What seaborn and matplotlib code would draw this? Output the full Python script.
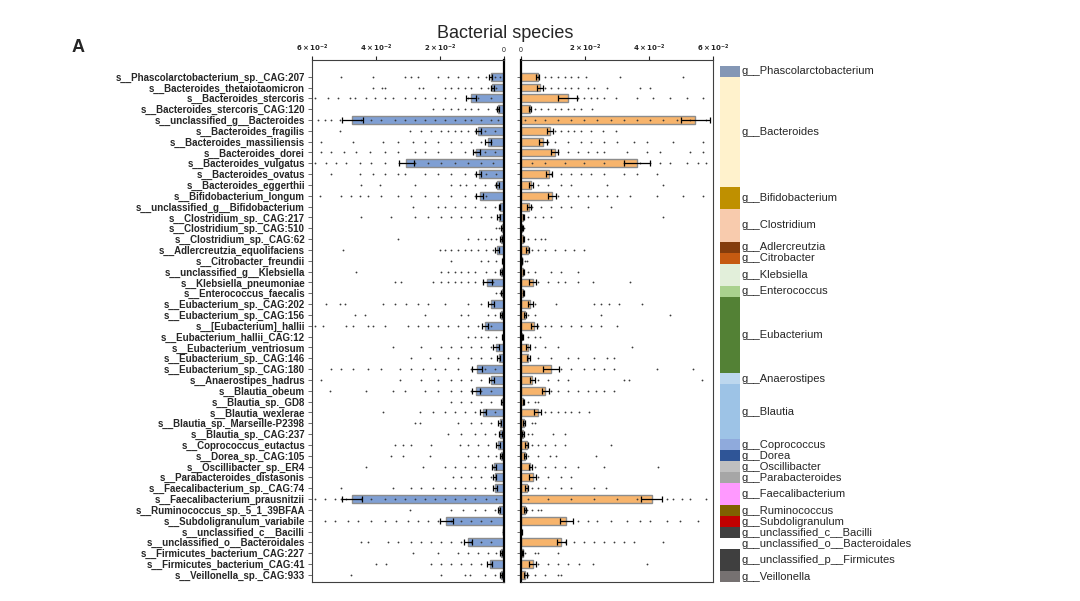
import numpy as np
import pandas as pd
import matplotlib
matplotlib.use('Agg')
import matplotlib.pyplot as plt
import seaborn as sns

# species rows, top to bottom
species = [
    's__Phascolarctobacterium_sp._CAG:207', 's__Bacteroides_thetaiotaomicron',
    's__Bacteroides_stercoris', 's__Bacteroides_stercoris_CAG:120',
    's__unclassified_g__Bacteroides', 's__Bacteroides_fragilis',
    's__Bacteroides_massiliensis', 's__Bacteroides_dorei', 's__Bacteroides_vulgatus',
    's__Bacteroides_ovatus', 's__Bacteroides_eggerthii', 's__Bifidobacterium_longum',
    's__unclassified_g__Bifidobacterium', 's__Clostridium_sp._CAG:217',
    's__Clostridium_sp._CAG:510', 's__Clostridium_sp._CAG:62',
    's__Adlercreutzia_equolifaciens', 's__Citrobacter_freundii',
    's__unclassified_g__Klebsiella', 's__Klebsiella_pneumoniae',
    's__Enterococcus_faecalis', 's__Eubacterium_sp._CAG:202',
    's__Eubacterium_sp._CAG:156', 's__[Eubacterium]_hallii',
    's__Eubacterium_hallii_CAG:12', 's__Eubacterium_ventriosum',
    's__Eubacterium_sp._CAG:146', 's__Eubacterium_sp._CAG:180',
    's__Anaerostipes_hadrus', 's__Blautia_obeum', 's__Blautia_sp._GD8',
    's__Blautia_wexlerae', 's__Blautia_sp._Marseille-P2398', 's__Blautia_sp._CAG:237',
    's__Coprococcus_eutactus', 's__Dorea_sp._CAG:105', 's__Oscillibacter_sp._ER4',
    's__Parabacteroides_distasonis', 's__Faecalibacterium_sp._CAG:74',
    's__Faecalibacterium_prausnitzii', 's__Ruminococcus_sp._5_1_39BFAA',
    's__Subdoligranulum_variabile', 's__unclassified_c__Bacilli',
    's__unclassified_o__Bacteroidales', 's__Firmicutes_bacterium_CAG:227',
    's__Firmicutes_bacterium_CAG:41', 's__Veillonella_sp._CAG:933',
]

genus_names = [
    'g__Phascolarctobacterium', 'g__Bacteroides', 'g__Bifidobacterium', 'g__Clostridium',
    'g__Adlercreutzia', 'g__Citrobacter', 'g__Klebsiella', 'g__Enterococcus',
    'g__Eubacterium', 'g__Anaerostipes', 'g__Blautia', 'g__Coprococcus', 'g__Dorea',
    'g__Oscillibacter', 'g__Parabacteroides', 'g__Faecalibacterium', 'g__Ruminococcus',
    'g__Subdoligranulum', 'g__unclassified_c__Bacilli', 'g__unclassified_o__Bacteroidales',
    'g__unclassified_p__Firmicutes', 'g__Veillonella',
]
genus_sizes = [1, 10, 2, 3, 1, 1, 2, 1, 7, 1, 5, 1, 1, 1, 1, 2, 1, 1, 1, 1, 2, 1]
genus_colors = [
    '#8497b5', '#fff2cc', '#bf9000', '#f8cbad', '#843c0c', '#c55a11', '#e2efda',
    '#a9d18e', '#538135', '#bdd7ee', '#9dc3e6', '#8faadc', '#2f5597', '#bfbfbf',
    '#a6a6a6', '#ff99ff', '#7f6000', '#c00000', '#404040', '#ffffff', '#3f3f3f',
    '#767171',
]

# mean relative abundance, in units of 1e-2
left_mean = [0.42, 0.36, 1.04, 0.19, 4.74, 0.81, 0.50, 0.86, 3.05, 0.79, 0.21, 0.76,
             0.14, 0.17, 0.06, 0.08, 0.22, 0.04, 0.08, 0.53, 0.07, 0.40, 0.08, 0.60,
             0.04, 0.25, 0.17, 0.85, 0.40, 0.88, 0.06, 0.66, 0.14, 0.11, 0.19, 0.10,
             0.31, 0.29, 0.29, 4.75, 0.15, 1.80, 0.02, 1.12, 0.10, 0.45, 0.10]
left_err = [0.06, 0.05, 0.15, 0.03, 0.32, 0.08, 0.10, 0.10, 0.24, 0.08, 0.05, 0.10,
            0.03, 0.04, 0.02, 0.03, 0.05, 0.02, 0.03, 0.14, 0.03, 0.10, 0.03, 0.10,
            0.02, 0.08, 0.05, 0.15, 0.08, 0.12, 0.02, 0.10, 0.04, 0.04, 0.05, 0.03,
            0.06, 0.05, 0.06, 0.30, 0.04, 0.20, 0.01, 0.12, 0.03, 0.08, 0.03]
right_mean = [0.52, 0.59, 1.46, 0.29, 5.45, 0.90, 0.69, 1.05, 3.63, 0.87, 0.31, 0.97,
              0.25, 0.07, 0.04, 0.07, 0.21, 0.03, 0.07, 0.36, 0.07, 0.29, 0.12, 0.41,
              0.04, 0.21, 0.23, 0.95, 0.35, 0.76, 0.07, 0.52, 0.09, 0.07, 0.18, 0.12,
              0.29, 0.36, 0.18, 4.09, 0.12, 1.41, 0.01, 1.26, 0.05, 0.36, 0.14]
right_err = [0.05, 0.10, 0.30, 0.03, 0.45, 0.10, 0.12, 0.12, 0.40, 0.10, 0.05, 0.12,
             0.05, 0.02, 0.01, 0.02, 0.04, 0.01, 0.02, 0.12, 0.01, 0.08, 0.03, 0.10,
             0.02, 0.06, 0.05, 0.25, 0.08, 0.10, 0.02, 0.10, 0.03, 0.03, 0.04, 0.03,
             0.05, 0.10, 0.05, 0.33, 0.03, 0.20, 0.01, 0.15, 0.02, 0.10, 0.04]

# individual samples (units of 1e-2), one list per species row
left_dots = [
    [5.08, 4.09, 3.1, 2.92, 2.69, 2.06, 1.75, 1.44, 1.13, 0.81, 0.55, 0.29, 0.14],
    [4.09, 3.81, 3.73, 2.66, 2.53, 1.85, 1.65, 1.44, 1.23, 1.02, 0.71, 0.5, 0.24],
    [5.92, 5.5, 5.19, 4.82, 4.67, 4.3, 4.04, 3.73, 3.47, 3.1, 2.79, 2.48, 2.17, 1.85, 1.54, 1.13, 0.81, 0.4],
    [2.22, 1.91, 1.65, 1.44, 1.23, 1.02, 0.81, 0.5, 0.24],
    [5.81, 5.6, 5.4, 5.14, 4.46, 4.15, 3.83, 3.42, 3.1, 2.79, 2.48, 2.17, 1.85, 1.54, 1.23, 1.02, 0.71, 0.4, 0.19],
    [5.14, 2.95, 2.58, 2.27, 1.96, 1.75, 1.54, 1.33, 1.13, 0.92, 0.6, 0.29],
    [5.71, 4.72, 3.78, 3.31, 2.84, 2.48, 2.06, 1.65, 1.33, 1.02, 0.71, 0.4],
    [5.71, 5.4, 5.0, 4.61, 4.2, 3.73, 3.31, 2.79, 2.48, 2.06, 1.65, 1.23, 0.92, 0.6, 0.29],
    [5.92, 5.55, 5.24, 4.93, 4.51, 4.15, 3.73, 3.28, 2.79, 2.38, 1.96, 1.54, 1.13, 0.71, 0.34],
    [5.4, 4.51, 4.09, 3.73, 3.31, 3.1, 2.48, 2.06, 1.65, 1.23, 0.92, 0.55, 0.24],
    [4.46, 3.89, 2.79, 1.65, 1.39, 1.18, 0.92, 0.6, 0.29],
    [5.76, 5.08, 4.77, 4.51, 4.25, 3.83, 3.31, 2.9, 2.48, 2.06, 1.65, 1.23, 0.92, 0.55],
    [2.84, 2.06, 1.85, 1.54, 1.23, 0.92, 0.6, 0.29],
    [4.46, 3.52, 2.79, 2.38, 1.96, 1.65, 1.33, 1.02, 0.71, 0.4],
    [0.25, 0.15, 0.1, 0.05],
    [3.31, 1.13, 0.81, 0.6, 0.4, 0.24],
    [5.03, 2.01, 1.85, 1.65, 1.44, 1.23, 1.02, 0.81, 0.55, 0.34],
    [1.65, 0.71, 0.5, 0.24],
    [4.61, 1.96, 1.75, 1.54, 1.33, 1.13, 0.92, 0.55, 0.29],
    [3.42, 3.21, 2.22, 1.96, 1.75, 1.54, 1.33, 1.13, 0.92, 0.66, 0.34],
    [0.24, 0.14, 0.08],
    [5.55, 5.14, 4.98, 3.78, 3.42, 3.05, 2.69, 2.38, 1.85, 1.13, 0.71, 0.4],
    [4.67, 4.35, 2.48, 1.33, 1.13, 0.5, 0.29],
    [5.92, 5.66, 4.93, 4.72, 4.25, 4.09, 3.73, 3.0, 2.69, 2.38, 2.06, 1.75, 1.44, 1.13, 0.81, 0.4],
    [1.13, 0.92, 0.71, 0.5, 0.24],
    [3.47, 2.58, 1.96, 1.65, 1.33, 1.02, 0.71, 0.4],
    [2.9, 2.32, 1.75, 1.44, 1.02, 0.71, 0.4],
    [5.4, 5.08, 4.72, 4.25, 3.83, 3.26, 2.9, 2.53, 2.17, 1.85, 1.44, 1.02, 0.6, 0.29],
    [5.71, 3.26, 2.58, 2.06, 1.65, 1.33, 1.02, 0.71, 0.4],
    [5.45, 4.3, 3.47, 3.1, 2.48, 2.06, 1.65, 1.33, 1.02, 0.71, 0.4],
    [1.65, 1.33, 1.02, 0.71, 0.4],
    [3.78, 2.64, 2.22, 1.85, 1.54, 1.23, 0.92, 0.6, 0.29],
    [2.79, 2.64, 1.44, 1.02, 0.71, 0.4],
    [1.75, 1.33, 0.92, 0.6, 0.29],
    [3.42, 3.16, 2.9, 2.27, 1.39, 1.13, 0.81, 0.5],
    [3.52, 3.16, 2.32, 1.13, 0.81, 0.5, 0.24],
    [4.3, 2.53, 1.85, 1.54, 1.23, 0.92, 0.6, 0.34],
    [1.59, 1.33, 1.02, 0.71, 0.4],
    [5.08, 3.47, 2.9, 2.58, 2.22, 1.85, 1.54, 1.23, 0.92, 0.6],
    [5.92, 5.6, 5.29, 5.08, 4.93, 4.46, 4.15, 3.73, 3.42, 3.1, 2.79, 2.48, 2.17, 1.85, 1.54, 1.23, 0.92, 0.55, 0.24],
    [2.95, 1.65, 1.28, 0.92, 0.6, 0.29],
    [5.6, 5.29, 4.88, 4.56, 4.15, 3.73, 3.36, 3.0, 2.69, 2.38, 2.06, 1.65, 1.33, 1.02, 0.71, 0.4],
    [0.02],
    [4.46, 4.25, 3.63, 3.31, 2.9, 2.58, 2.27, 1.96, 1.65, 1.33, 1.02, 0.71, 0.4],
    [2.84, 2.06, 1.44, 1.13, 0.81, 0.5, 0.24],
    [3.99, 3.68, 2.27, 1.96, 1.65, 1.33, 1.02, 0.71, 0.4],
    [4.77, 1.96, 1.23, 1.07, 0.6, 0.29],
]
right_dots = [
    [0.54, 0.74, 0.95, 1.15, 1.36, 1.57, 1.77, 2.03, 3.09, 5.05],
    [0.74, 0.95, 1.15, 1.36, 1.57, 1.77, 2.08, 2.29, 2.7, 3.73, 4.04],
    [1.77, 1.98, 2.19, 2.39, 2.6, 2.96, 3.63, 4.14, 4.66, 5.18, 5.69],
    [0.43, 0.64, 0.85, 1.05, 1.26, 1.46, 1.67, 1.88, 2.21],
    [0.12, 0.43, 0.74, 1.15, 1.57, 1.98, 2.39, 2.8, 3.22, 3.63, 4.04, 4.45, 4.87, 5.28, 5.79],
    [1.05, 1.26, 1.46, 1.67, 1.88, 2.19, 2.55, 2.96],
    [0.85, 1.05, 1.46, 1.88, 2.19, 2.6, 3.01, 3.53, 3.94, 4.76, 5.69],
    [1.15, 1.46, 1.77, 2.08, 2.39, 2.6, 3.32, 3.94, 4.35, 5.28, 5.69],
    [0.33, 0.74, 1.36, 1.98, 2.6, 3.22, 3.73, 4.04, 4.35, 4.66, 5.18, 5.54, 5.79],
    [0.95, 1.26, 1.57, 1.88, 2.19, 2.6, 3.22, 3.63, 4.25],
    [0.54, 0.85, 1.26, 1.57, 2.7, 4.45],
    [1.15, 1.46, 1.77, 2.08, 2.39, 2.7, 3.01, 3.42, 4.25, 5.07, 5.69],
    [0.33, 0.64, 0.95, 1.26, 1.57, 2.08, 2.8],
    [0.23, 0.43, 0.69, 0.95, 4.45],
    [0.05, 0.1],
    [0.23, 0.43, 0.64, 0.74],
    [0.33, 0.54, 0.74, 1.05, 1.36, 1.67, 1.98],
    [0.12, 0.18],
    [0.23, 0.43, 0.95, 1.26, 1.77],
    [0.54, 0.85, 1.15, 1.36, 1.77, 2.24, 3.42],
    [0.07],
    [0.43, 1.1, 2.29, 2.49, 2.75, 3.06, 3.78],
    [0.23, 0.43, 2.49, 4.66],
    [0.54, 0.74, 0.95, 1.26, 1.57, 1.88, 2.19, 2.49, 3.01],
    [0.23, 0.43, 0.59],
    [0.43, 0.74, 1.15, 3.47],
    [0.54, 0.95, 1.46, 1.77, 2.29, 2.7, 2.91],
    [1.26, 1.57, 1.98, 2.29, 2.6, 2.91, 4.25, 5.36],
    [0.54, 0.85, 1.15, 1.46, 3.22, 3.37, 5.67],
    [0.95, 1.15, 1.46, 1.77, 2.08, 2.34, 2.6, 2.91],
    [0.23, 0.43, 0.54],
    [0.74, 0.95, 1.15, 1.36, 1.57, 1.82, 2.13],
    [0.33, 0.43],
    [0.23, 0.33, 1.0, 1.36],
    [0.33, 0.54, 0.74, 1.05, 1.36, 2.8],
    [0.23, 0.54, 0.9, 1.1, 2.34],
    [0.43, 0.74, 1.05, 1.36, 1.77, 2.6, 4.28],
    [0.54, 0.85, 1.26, 1.57],
    [0.33, 0.54, 0.74, 1.26, 1.57, 2.29, 2.65],
    [0.23, 0.85, 1.57, 2.29, 3.01, 3.63, 4.56, 4.76, 5.02, 5.28, 5.79],
    [0.18, 0.33, 0.54, 0.64],
    [1.77, 2.08, 2.39, 2.8, 3.32, 3.73, 4.04, 4.56, 4.97, 5.54],
    [],
    [1.36, 1.67, 1.98, 2.29, 2.6, 2.91, 3.22, 3.53, 4.45],
    [0.12, 0.43, 0.54, 1.15],
    [0.54, 0.85, 1.15, 1.46, 1.82, 2.24, 3.94],
    [0.23, 0.43, 0.74, 1.15, 1.26],
]

tick_vals = [0, 0.02, 0.04, 0.06]
tick_labels = ['0', r'$\mathbf{2\times10^{-2}}$', r'$\mathbf{4\times10^{-2}}$', r'$\mathbf{6\times10^{-2}}$']

sns.set_style('white')
plt.rcParams['font.family'] = ['Liberation Sans', 'DejaVu Sans']

W, H = 1080, 601
fig = plt.figure(figsize=(W / 100, H / 100), dpi=100)
axL = fig.add_axes([312 / W, 1 - 582 / H, 192 / W, 522 / H])
axR = fig.add_axes([521 / W, 1 - 582 / H, 192 / W, 522 / H])
axG = fig.add_axes([720 / W, 1 - 582 / H, 20 / W, 516 / H])


def draw_panel(ax, means, errs, dots, color):
    bars = pd.DataFrame({'species': species, 'value': np.array(means) * 0.01})
    sns.barplot(data=bars, x='value', y='species', order=species, orient='h',
                color=color, saturation=1, width=0.72, edgecolor='#8c8c8c',
                linewidth=1.0, errorbar=None, ax=ax)
    pts = pd.DataFrame([(s, v * 0.01) for s, vals in zip(species, dots) for v in vals],
                       columns=['species', 'value'])
    sns.stripplot(data=pts, x='value', y='species', order=species, orient='h',
                  jitter=False, size=1.3, color='#3a3a3a', ax=ax, zorder=3)
    ax.errorbar(bars['value'], np.arange(len(species)), xerr=np.array(errs) * 0.01,
                fmt='none', ecolor='black', elinewidth=0.9, capsize=2, capthick=0.9,
                zorder=4)
    ax.set_ylim(46.66, -1.54)
    ax.set_xlabel('')
    ax.set_ylabel('')
    ax.set_xticks(tick_vals)
    ax.set_xticklabels(tick_labels)
    ax.tick_params(axis='x', top=True, bottom=False, labeltop=True, labelbottom=False,
                   length=3, width=0.8, pad=1, labelsize=5)
    ax.tick_params(axis='y', left=True, length=3, width=0.6, pad=2, color='#555555')
    for sp in ax.spines.values():
        sp.set_visible(True)
        sp.set_color('#404040')
        sp.set_linewidth(0.8)


draw_panel(axL, left_mean, left_err, left_dots, '#7f9fd3')
axL.set_xlim(0.06, 0)
axL.spines['right'].set_color('black')
axL.spines['right'].set_linewidth(1.6)
for lbl in axL.get_yticklabels():
    lbl.set_fontsize(7)
    lbl.set_fontweight('bold')

draw_panel(axR, right_mean, right_err, right_dots, '#f7b46c')
axR.set_xlim(0, 0.06)
axR.set_yticklabels([])
axR.spines['left'].set_color('black')
axR.spines['left'].set_linewidth(1.6)

# genus colour column
start = 0
for name, size, col in zip(genus_names, genus_sizes, genus_colors):
    axG.bar(0.5, size, bottom=start, width=1, color=col, linewidth=0)
    axG.text(1.1, start + size / 2, name, fontsize=8, va='center', ha='left')
    start += size
axG.set_xlim(0, 1)
axG.set_ylim(sum(genus_sizes), 0)
axG.axis('off')

fig.text(505 / W, 1 - 33 / H, 'Bacterial species', fontsize=13, ha='center', va='center')
fig.text(78 / W, 1 - 48 / H, 'A', fontsize=13, fontweight='bold', ha='center', va='center')

fig.savefig('out.png', dpi=100)
